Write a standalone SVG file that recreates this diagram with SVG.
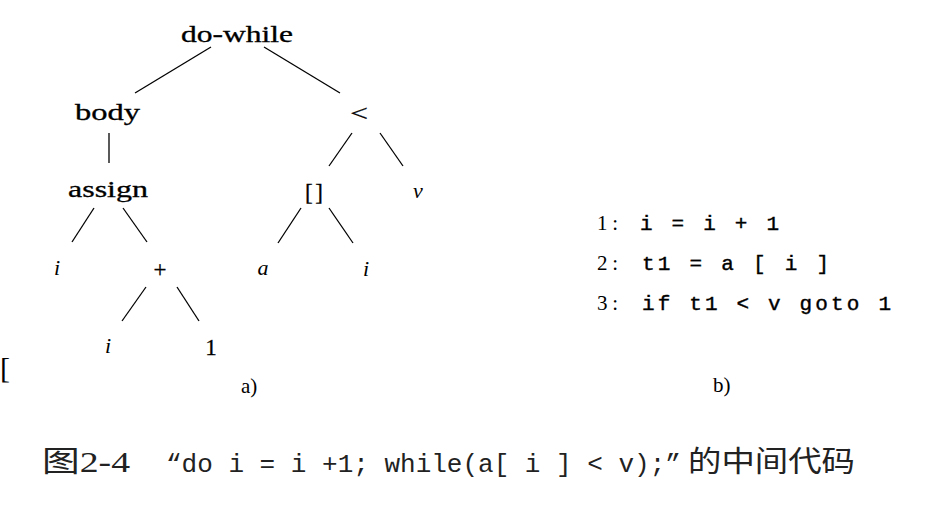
<svg xmlns="http://www.w3.org/2000/svg" width="934" height="506" viewBox="0 0 934 506">
<style>
.t{font-family:"Liberation Serif",serif;font-size:23px;fill:#000;stroke:#000;stroke-width:0.3}
.l{font-family:"Liberation Serif",serif;font-size:21px;fill:#000}
.it{font-family:"Liberation Serif",serif;font-style:italic;font-size:22px;fill:#000}
.m{font-family:"Liberation Mono",monospace;font-size:21px;fill:#000;stroke:#000;stroke-width:0.4}
.c{font-size:29px;fill:#222;font-family:"Liberation Serif","Noto Sans CJK SC",serif}
.cm{font-family:"Liberation Mono","Noto Sans CJK SC",monospace;font-size:26px;fill:#222}
.ck{font-family:"Noto Sans CJK SC",sans-serif}
.e line{stroke:#000;stroke-width:1.3}
</style>
<rect width="934" height="506" fill="#fff"/>
<g id="edges" class="e">
<line x1="211" y1="47" x2="135" y2="93"/>
<line x1="264" y1="47" x2="340" y2="93"/>
<line x1="109" y1="133" x2="109" y2="163"/>
<line x1="352" y1="133" x2="329" y2="166"/>
<line x1="380" y1="133" x2="403" y2="166"/>
<line x1="94" y1="208" x2="72" y2="242"/>
<line x1="123" y1="208" x2="147" y2="242"/>
<line x1="301" y1="208" x2="278" y2="243"/>
<line x1="329" y1="208" x2="353" y2="243"/>
<line x1="146" y1="287" x2="122" y2="321"/>
<line x1="177" y1="287" x2="199" y2="321"/>
</g>
<g id="n-dowhile"><text class="t" x="181" y="42" textLength="112" lengthAdjust="spacingAndGlyphs">do-while</text></g>
<g id="n-body"><text class="t" x="75" y="120" textLength="65" lengthAdjust="spacingAndGlyphs">body</text></g>
<g id="n-lt"><text class="t" x="350" y="121" textLength="18" lengthAdjust="spacingAndGlyphs">&lt;</text></g>
<g id="n-assign"><text class="t" x="68" y="197" textLength="80" lengthAdjust="spacingAndGlyphs">assign</text></g>
<g id="n-index"><text class="t" x="305" y="200" textLength="18" lengthAdjust="spacing">[ ]</text></g>
<g id="n-v"><text class="it" x="418" y="198" text-anchor="middle">v</text></g>
<g id="n-i1"><text class="it" x="57" y="275" text-anchor="middle">i</text></g>
<g id="n-plus"><text class="t" x="160" y="277" text-anchor="middle">+</text></g>
<g id="n-a"><text class="it" x="263" y="275" text-anchor="middle">a</text></g>
<g id="n-i3"><text class="it" x="366" y="276" text-anchor="middle">i</text></g>
<g id="n-i2"><text class="it" x="108" y="353" text-anchor="middle">i</text></g>
<g id="n-one"><text class="t" x="211" y="355" text-anchor="middle">1</text></g>
<text class="l" x="241" y="393">a)</text>
<g id="code">
<text class="l" x="597" y="230" textLength="21" lengthAdjust="spacing">1:</text>
<text class="l" x="597" y="270" textLength="21" lengthAdjust="spacing">2:</text>
<text class="l" x="597" y="310" textLength="21" lengthAdjust="spacing">3:</text>
<text class="m" x="640" y="230" textLength="139" lengthAdjust="spacing" xml:space="preserve">i = i + 1</text>
<text class="m" x="642" y="270" textLength="187" lengthAdjust="spacing" xml:space="preserve">t1 = a [ i ]</text>
<text class="m" x="642" y="310" textLength="249" lengthAdjust="spacing" xml:space="preserve">if t1 &lt; v goto 1</text>
</g>
<text class="l" x="713" y="392">b)</text>
<text x="0" y="378" font-family="Liberation Serif,serif" font-size="30">[</text>
<g id="caption">
<text class="c" x="42" y="472" textLength="88" lengthAdjust="spacingAndGlyphs">图2-4</text>
<text class="cm" x="166" y="472">“do i = i +1; while(a[ i ] &lt; v);”</text>
<text class="c ck" x="688" y="472" textLength="167" lengthAdjust="spacingAndGlyphs">的中间代码</text>
</g>
</svg>
